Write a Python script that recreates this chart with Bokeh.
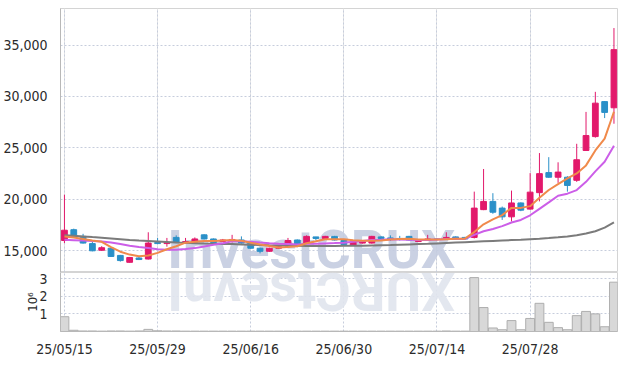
import numpy as np
from bokeh.plotting import figure
from bokeh.layouts import column
from bokeh.models import Range1d, FixedTicker, Grid, ColumnDataSource
from bokeh.core.properties import value
from bokeh.embed import file_html
from bokeh.resources import INLINE

dates = ["25/05/15", "25/05/16", "25/05/19", "25/05/20", "25/05/21", "25/05/22", "25/05/23",
         "25/05/26", "25/05/27", "25/05/28", "25/05/29", "25/05/30", "25/06/02", "25/06/04",
         "25/06/05", "25/06/09", "25/06/10", "25/06/11", "25/06/12", "25/06/13", "25/06/16",
         "25/06/17", "25/06/18", "25/06/19", "25/06/20", "25/06/23", "25/06/24", "25/06/25",
         "25/06/26", "25/06/27", "25/06/30", "25/07/01", "25/07/02", "25/07/03", "25/07/04",
         "25/07/07", "25/07/08", "25/07/09", "25/07/10", "25/07/11", "25/07/14", "25/07/15",
         "25/07/16", "25/07/17", "25/07/18", "25/07/21", "25/07/22", "25/07/23", "25/07/24",
         "25/07/25", "25/07/28", "25/07/29", "25/07/30", "25/07/31", "25/08/01", "25/08/04",
         "25/08/05", "25/08/06", "25/08/07", "25/08/08"]

opens = [16000, 17050, 16400, 15700, 15050, 15250, 14550, 13880, 14300, 14200,
         15800, 15700, 16300, 15750, 15850, 16550, 16150, 15900, 15950, 16050,
         15750, 15250, 14950, 15250, 15450, 16050, 15750, 16350, 16200, 16400,
         16000, 15550, 15750, 15750, 16350, 16250, 16200, 16400, 15900, 16050,
         16150, 16150, 16350, 16300, 16300, 19000, 19800, 19150, 18300, 19650,
         19050, 20650, 22600, 22150, 22150, 21850, 24750, 26100, 29500, 28900]
highs = [20450, 17150, 16650, 15900, 15450, 15300, 14600, 14400, 14450, 16800,
         16250, 16250, 16500, 16250, 16300, 16600, 16200, 16150, 16550, 16400,
         15800, 15300, 15300, 15450, 16250, 16100, 16500, 16350, 16450, 16450,
         16050, 15950, 15950, 16450, 16400, 16500, 16450, 16450, 16100, 16550,
         16200, 16800, 16400, 16350, 20750, 22950, 20600, 19300, 20850, 19700,
         22550, 24500, 24100, 23600, 22250, 25400, 28500, 30450, 29550, 36650]
lows = [15750, 16250, 15700, 14950, 15000, 14400, 13950, 13850, 14100, 14150,
        15650, 15400, 15750, 15700, 15800, 16100, 15750, 15850, 15800, 15700,
        15200, 14750, 14900, 15200, 15400, 15350, 15700, 16000, 16150, 16000,
        15550, 15500, 15700, 15700, 16150, 15950, 16000, 16000, 15850, 16000,
        16000, 16100, 16150, 16100, 16200, 18950, 18600, 18000, 17850, 18850,
        19000, 19800, 22100, 21600, 20750, 21700, 24700, 26000, 27900, 27350]
closes = [17000, 16300, 15750, 15000, 15300, 14450, 14050, 14350, 14150, 15750,
          15700, 15800, 15800, 15900, 16150, 16150, 15800, 16050, 16100, 15750,
          15250, 14950, 15250, 15400, 16000, 15600, 16400, 16200, 16400, 16050,
          15600, 15900, 15900, 16400, 16200, 16100, 16100, 16050, 16050, 16150,
          16100, 16300, 16200, 16150, 19150, 19800, 18750, 18300, 19650, 18950,
          20700, 22500, 22150, 22650, 21350, 23850, 26200, 29350, 28450, 34550]
volumes = [0.84e6, 0.07e6, 0.03e6, 0.03e6, 0.02e6, 0.03e6, 0.03e6, 0.02e6, 0.03e6, 0.12e6,
           0.04e6, 0.03e6, 0.03e6, 0.02e6, 0.02e6, 0.02e6, 0.02e6, 0.02e6, 0.02e6, 0.02e6,
           0.02e6, 0.02e6, 0.02e6, 0.02e6, 0.02e6, 0.02e6, 0.02e6, 0.02e6, 0.02e6, 0.02e6,
           0.02e6, 0.02e6, 0.02e6, 0.02e6, 0.02e6, 0.02e6, 0.02e6, 0.02e6, 0.02e6, 0.02e6,
           0.02e6, 0.03e6, 0.02e6, 0.02e6, 3.06e6, 1.36e6, 0.20e6, 0.10e6, 0.62e6, 0.10e6,
           0.74e6, 1.60e6, 0.52e6, 0.22e6, 0.10e6, 0.90e6, 1.14e6, 1.00e6, 0.27e6, 2.80e6]
ma5 = [16400, 16300, 16150, 16000, 15870, 15360, 14910, 14630, 14460, 14550,
       14800, 15150, 15440, 15790, 15870, 15960, 15960, 16010, 16050, 15970,
       15790, 15620, 15460, 15320, 15370, 15440, 15730, 15920, 16120, 16130,
       16130, 16030, 15970, 15970, 16000, 16100, 16140, 16170, 16100, 16090,
       16090, 16130, 16160, 16180, 16820, 17570, 18060, 18470, 19170, 19170,
       19340, 20150, 20910, 21480, 22040, 22520, 23300, 24750, 25900, 28510]
ma10 = [16070, 16030, 15990, 15950, 15900, 15800, 15650, 15500, 15370, 15260,
        15150, 15100, 15100, 15170, 15260, 15420, 15580, 15740, 15920, 15920,
        15880, 15800, 15740, 15690, 15670, 15620, 15680, 15690, 15720, 15750,
        15790, 15880, 15950, 16050, 16070, 16120, 16090, 16070, 16040, 16050,
        16100, 16140, 16170, 16150, 16550, 16900, 17120, 17400, 17750, 18000,
        18450, 19080, 19700, 20350, 20550, 20900, 21700, 22720, 23650, 25200]
ma60 = [16500, 16450, 16400, 16330, 16270, 16200, 16130, 16060, 16000, 15950,
        15900, 15850, 15800, 15770, 15740, 15710, 15690, 15670, 15650, 15620,
        15590, 15560, 15530, 15510, 15490, 15480, 15470, 15470, 15470, 15470,
        15480, 15490, 15500, 15520, 15540, 15560, 15590, 15620, 15650, 15680,
        15720, 15760, 15800, 15840, 15880, 15920, 15960, 16000, 16040, 16080,
        16130, 16180, 16240, 16310, 16400, 16520, 16680, 16900, 17250, 17750]
price_ticks = [15000, 20000, 25000, 30000, 35000]
vol_ticks = [1e6, 2e6, 3e6]
vol_labels = ["1", "2", "3"]
date_ticks = [0, 10, 20, 30, 40, 50]

FONT = "DejaVu Sans Condensed"
WM_FONT = "Roboto"
UP = "#e2196b"
DOWN = "#2a90c8"
GRID = "#c6cddc"
BORDER = "#d4d4d4"
LABEL = "#2b2b2b"

idx = list(range(len(dates)))
colors = [UP if c >= o else DOWN for o, c in zip(opens, closes)]
src = ColumnDataSource(dict(x=idx, o=opens, h=highs, l=lows, c=closes,
                            top=[max(a, b) for a, b in zip(opens, closes)],
                            bot=[min(a, b) for a, b in zip(opens, closes)],
                            col=colors, v=volumes))

x_range = Range1d(-0.424, 59.38)

top = figure(width=621, height=272, x_range=x_range, y_range=Range1d(12890, 38550),
             output_backend="svg", toolbar_location=None, x_axis_location=None,
             min_border_left=53, min_border_right=4, min_border_top=8, min_border_bottom=0)
top.outline_line_color = BORDER
top.yaxis.ticker = FixedTicker(ticks=price_ticks)
top.yaxis.major_label_overrides = {t: f"{t:,}" for t in price_ticks}
top.yaxis.major_tick_line_color = None
top.yaxis.minor_tick_line_color = None
top.yaxis.axis_line_color = "#b8b8b8"
top.yaxis.major_label_standoff = 7
top.yaxis.major_label_text_font = FONT
top.yaxis.major_label_text_font_size = "14px"
top.yaxis.major_label_text_color = LABEL
top.ygrid.grid_line_color = GRID
top.ygrid.grid_line_dash = "2 2"
top.add_layout(Grid(dimension=0, ticker=FixedTicker(ticks=date_ticks),
                    grid_line_color=GRID, grid_line_dash="2 2"))

# watermark
top.text(x=[26.5], y=[15100], text=["InvestCRUX"], text_align="center",
         text_baseline="middle", text_font=value(WM_FONT), text_font_size="54px",
         text_font_style="bold", text_color="#c4cce0", text_alpha=0.9)

top.segment(x0="x", y0="h", x1="x", y1="l", color="col", line_width=1, source=src)
top.vbar(x="x", top="top", bottom="bot", width=0.62, fill_color="col", line_color="col",
         source=src)

top.line(idx, ma60, line_color="#7b7b7b", line_width=2)
top.line(idx, ma10, line_color="#cc5ee8", line_width=2)
top.line(idx, ma5, line_color="#f08a4b", line_width=2)

bot = figure(width=621, height=87, x_range=x_range, y_range=Range1d(0, 3.35e6),
             output_backend="svg", toolbar_location=None,
             min_border_left=53, min_border_right=4, min_border_top=0, min_border_bottom=22)
bot.outline_line_color = BORDER
bot.xaxis.ticker = FixedTicker(ticks=date_ticks)
bot.xaxis.major_label_overrides = {t: dates[t] for t in date_ticks}
bot.xaxis.major_tick_line_color = None
bot.xaxis.minor_tick_line_color = None
bot.xaxis.axis_line_color = "#b8b8b8"
bot.xaxis.major_label_standoff = 3
bot.xaxis.major_label_text_font = FONT
bot.xaxis.major_label_text_font_size = "14px"
bot.xaxis.major_label_text_color = LABEL
bot.yaxis.ticker = FixedTicker(ticks=vol_ticks)
bot.yaxis.major_label_overrides = {t: l for t, l in zip(vol_ticks, vol_labels)}
bot.yaxis.major_tick_line_color = None
bot.yaxis.minor_tick_line_color = None
bot.yaxis.axis_line_color = "#b8b8b8"
bot.yaxis.major_label_standoff = 7
bot.yaxis.major_label_text_font = FONT
bot.yaxis.major_label_text_font_size = "14px"
bot.yaxis.major_label_text_color = LABEL
bot.yaxis.axis_label = "10⁶"
bot.yaxis.axis_label_text_font = FONT
bot.yaxis.axis_label_text_font_size = "13px"
bot.yaxis.axis_label_text_font_style = "normal"
bot.yaxis.axis_label_text_color = LABEL
bot.yaxis.axis_label_standoff = -4
bot.xgrid.grid_line_color = GRID
bot.xgrid.grid_line_dash = "2 2"
bot.ygrid.grid_line_color = GRID
bot.ygrid.grid_line_dash = "2 2"

# reflected watermark
bot.text(x=[26.5], y=[2.25e6], text=["XURCtsevnI"], angle=np.pi, text_align="center",
         text_baseline="middle", text_font=value(WM_FONT), text_font_size="54px",
         text_font_style="bold", text_color="#e0e4ed", text_alpha=0.9)

bot.vbar(x="x", top="v", bottom=0, width=0.95, fill_color="#d8d8d8", line_color="#aeaeae",
         source=src)

layout = column(top, bot, spacing=0)
open("out.html", "w").write(file_html(layout, INLINE))
